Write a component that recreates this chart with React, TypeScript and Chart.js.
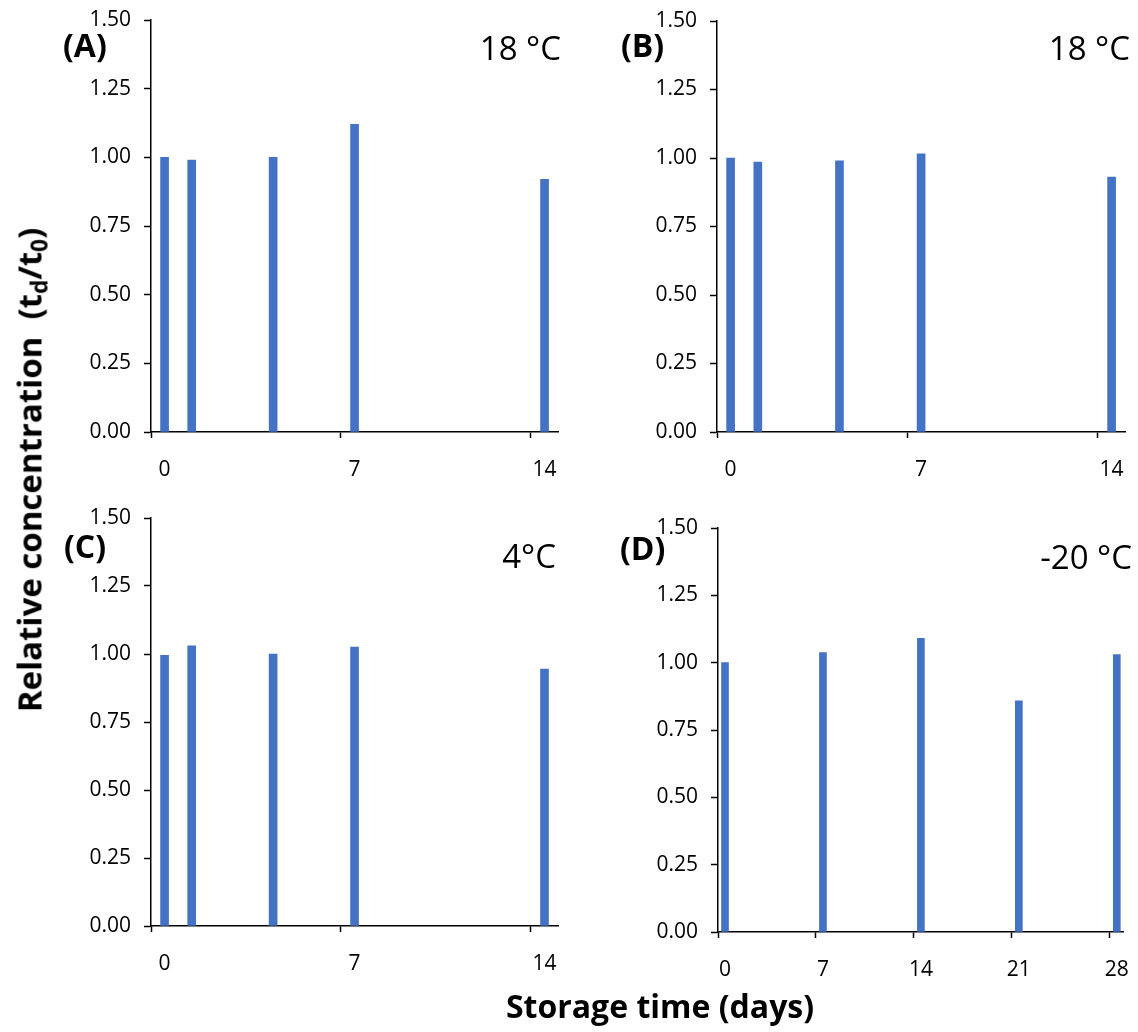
import React, { useEffect, useRef } from 'react';
import { Chart, registerables } from 'chart.js';

Chart.register(...registerables);

// ---- data ----
const daysShort = [0, 1, 4, 7, 14];
const daysLong = [0, 7, 14, 21, 28];
const valuesA = [1.0, 0.99, 1.0, 1.12, 0.92];
const valuesB = [1.0, 0.985, 0.99, 1.015, 0.93];
const valuesC = [0.995, 1.03, 1.0, 1.025, 0.945];
const valuesD = [1.0, 1.037, 1.09, 0.858, 1.03];
const yTickValues = [0, 0.25, 0.5, 0.75, 1.0, 1.25, 1.5];
const labelEvery = 7;
const panelLetters = ['(A)', '(B)', '(C)', '(D)'];
const temperatures = ['18 °C', '18 °C', '4°C', '-20 °C'];

const BAR_COLOR = '#4472C4';
const FONT = "'Open Sans', 'Noto Sans', sans-serif";

type PanelProps = {
  days: number[];
  values: number[];
  maxDay: number;
  left: number;
  top: number;
  width: number;
  height: number;
  padding: { top: number; right: number; bottom: number; left: number };
  yWidth: number;
  xHeight: number;
  barThickness: number;
};

function Panel(p: PanelProps) {
  const ref = useRef<HTMLCanvasElement | null>(null);
  useEffect(() => {
    if (!ref.current) return;
    const categories = Array.from({ length: p.maxDay + 1 }, (_, i) => String(i));
    const chart = new Chart(ref.current, {
      type: 'bar',
      data: {
        labels: categories,
        datasets: [
          {
            data: p.days.map((d, i) => ({ x: String(d), y: p.values[i] })) as any,
            backgroundColor: BAR_COLOR,
            borderWidth: 0,
            barThickness: p.barThickness,
          },
        ],
      },
      options: {
        responsive: false,
        maintainAspectRatio: false,
        animation: false,
        layout: { padding: p.padding },
        plugins: { legend: { display: false }, tooltip: { enabled: false } },
        scales: {
          x: {
            type: 'category',
            offset: true,
            grid: {
              offset: true,
              drawOnChartArea: false,
              drawTicks: true,
              tickLength: 6,
              tickWidth: 1.5,
              tickColor: (ctx: any) =>
                ctx.type === 'tick' && ctx.index % labelEvery === 0 ? '#000' : 'rgba(0,0,0,0)',
            },
            border: { display: true, color: '#000', width: 1.5 },
            ticks: {
              autoSkip: false,
              maxRotation: 0,
              minRotation: 0,
              padding: 19,
              color: '#000',
              font: { family: FONT, size: 21 },
              callback: (_v: any, i: number) => (i % labelEvery === 0 ? categories[i] : ''),
            },
            afterFit: (s: any) => {
              s.height = p.xHeight;
            },
          },
          y: {
            min: 0,
            max: 1.5,
            afterBuildTicks: (s: any) => {
              s.ticks = yTickValues.map((v) => ({ value: v }));
            },
            grid: {
              drawOnChartArea: false,
              drawTicks: true,
              tickLength: 7,
              tickWidth: 1.5,
              tickColor: '#000',
            },
            border: { display: true, color: '#000', width: 1.5 },
            ticks: {
              padding: 13,
              color: '#000',
              font: { family: FONT, size: 21 },
              callback: (v: any) => Number(v).toFixed(2),
            },
            afterFit: (s: any) => {
              s.width = p.yWidth;
            },
          },
        },
      },
    });
    return () => chart.destroy();
  }, []);
  return (
    <canvas
      ref={ref}
      width={p.width}
      height={p.height}
      style={{ position: 'absolute', left: p.left, top: p.top, width: p.width, height: p.height }}
    />
  );
}

function Label(props: { text: React.ReactNode; x: number; y: number; size: number; bold?: boolean; align?: 'left' | 'right' | 'center'; rotate?: boolean }) {
  const tx = props.align === 'right' ? '-100%' : props.align === 'center' ? '-50%' : '0';
  return (
    <div
      style={{
        position: 'absolute',
        left: props.x,
        top: props.y,
        transform: `translate(${tx}, -50%)${props.rotate ? ' rotate(-90deg)' : ''}`,
        fontFamily: FONT,
        fontSize: props.size,
        fontWeight: props.bold ? 700 : 400,
        lineHeight: 1,
        whiteSpace: 'nowrap',
        color: '#000',
      }}
    >
      {props.text}
    </div>
  );
}

const subStyle: React.CSSProperties = { fontSize: '0.68em', verticalAlign: '-0.28em', lineHeight: 0 };

export default function App() {
  return (
    <div style={{ position: 'absolute', left: 0, top: 0, width: 1138, height: 1032, background: '#fff', overflow: 'hidden' }}>
      <Panel days={daysShort} values={valuesA} maxDay={14} left={0} top={-6} width={576} height={506}
        padding={{ top: 26, right: 13, bottom: 8, left: 0 }} yWidth={151} xHeight={60} barThickness={8} />
      <Panel days={daysShort} values={valuesB} maxDay={14} left={570} top={-5} width={573} height={505}
        padding={{ top: 26, right: 12, bottom: 8, left: 0 }} yWidth={147} xHeight={60} barThickness={8} />
      <Panel days={daysShort} values={valuesC} maxDay={14} left={0} top={492} width={576} height={540}
        padding={{ top: 26, right: 15, bottom: 46, left: 0 }} yWidth={151} xHeight={60} barThickness={8} />
      <Panel days={daysLong} values={valuesD} maxDay={28} left={570} top={500} width={578} height={532}
        padding={{ top: 28, right: 11, bottom: 40, left: 0 }} yWidth={148} xHeight={60} barThickness={7} />

      <Label text={panelLetters[0]} x={63} y={45} size={32} bold />
      <Label text={panelLetters[1]} x={621} y={45} size={32} bold />
      <Label text={panelLetters[2]} x={64} y={546} size={32} bold />
      <Label text={panelLetters[3]} x={620} y={548} size={32} bold />

      <Label text={temperatures[0]} x={561} y={47} size={33} align="right" />
      <Label text={temperatures[1]} x={1130} y={47} size={33} align="right" />
      <Label text={temperatures[2]} x={556} y={555} size={33} align="right" />
      <Label text={temperatures[3]} x={1132} y={556} size={33} align="right" />

      <Label
        text={<span>Relative concentration&nbsp; (t<span style={subStyle}>d</span>/t<span style={subStyle}>0</span>)</span>}
        x={29} y={470} size={33} bold align="center" rotate
      />
      <Label text="Storage time (days)" x={660} y={1006} size={32} bold align="center" />
    </div>
  );
}
